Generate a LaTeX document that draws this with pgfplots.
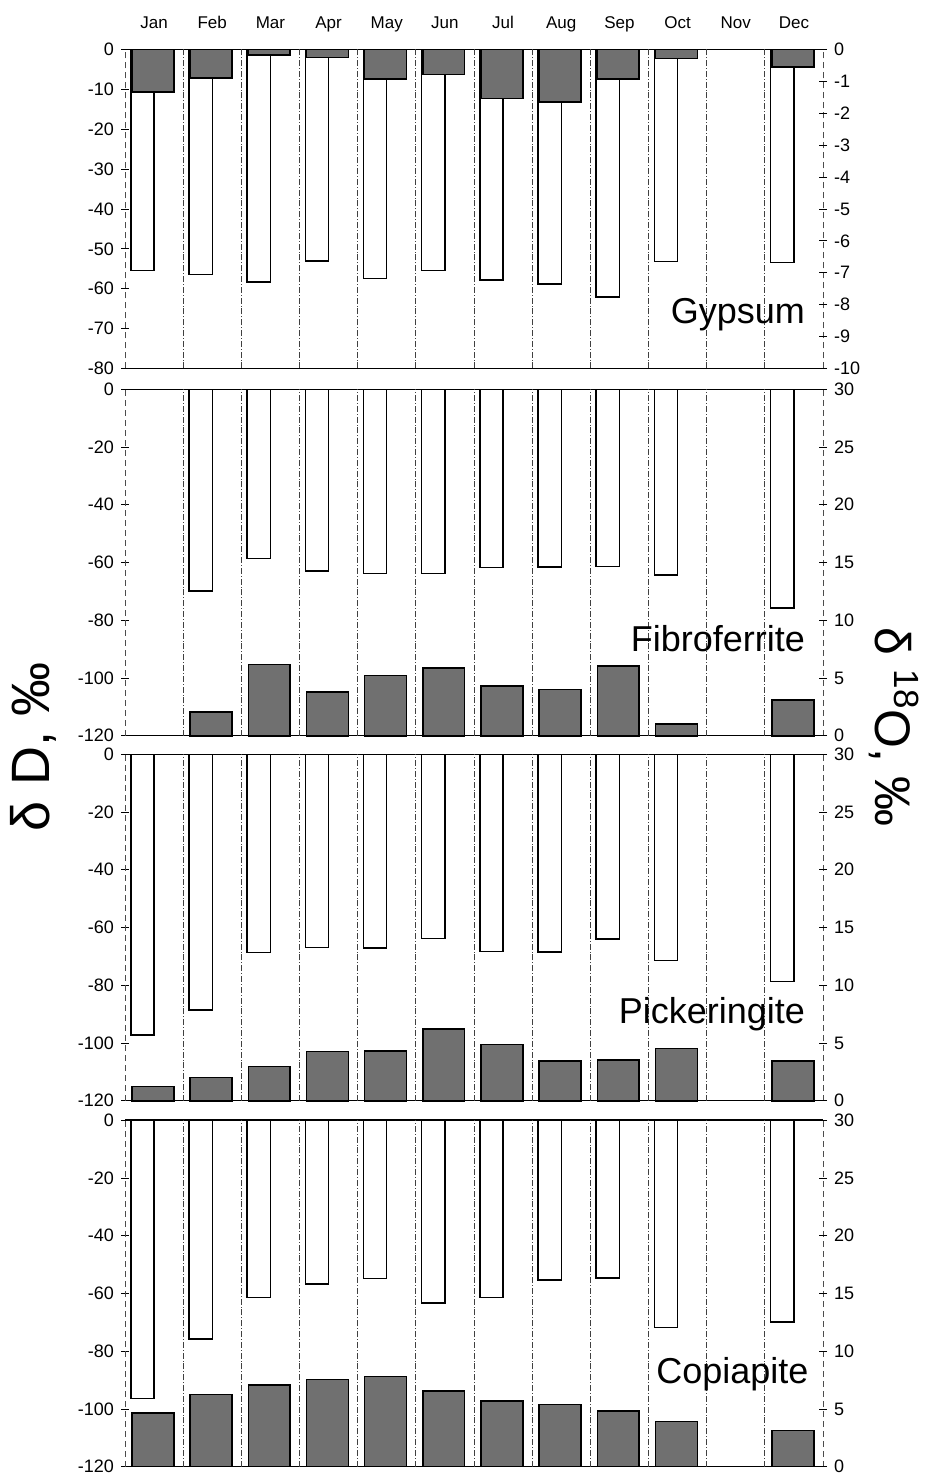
\documentclass[border=0pt]{standalone}
\usepackage{pgfplots}
\pgfplotsset{compat=1.18}
\usepackage{fontspec}
\setmainfont{Liberation Sans}
\definecolor{bargray}{gray}{0.44}
\tikzset{plabel/.style={anchor=east, font=\fontsize{18}{20}\selectfont}}
\pgfplotsset{
  panel/.style={
    anchor=south west, width=349pt, scale only axis,
    xmin=0.5, xmax=12.5,
    /pgf/number format/assume math mode=true,
    tick label style={font=\fontsize{9}{10}\selectfont},
    major tick length=4pt, tick align=center,
    tick style={black, line width=0.4pt},
    clip=false,
  },
  leftax/.style={panel,
    separate axis lines,
    x axis line style={black, line width=0.7pt},
    y axis line style={black!70, densely dashed, line width=0.4pt},
    ytick pos=left, yticklabel pos=left,
    extra x ticks={1.5,2.5,...,11.5},
    extra x tick labels={},
    extra x tick style={grid=major, major tick length=0pt,
      major grid style={black!75, densely dashdotted, line width=0.4pt}},
  },
  rightax/.style={panel,
    hide x axis,
    axis line style={draw=none},
    ytick pos=right, yticklabel pos=right,
  },
  whitebar/.style={ybar, bar width=0.4, bar shift=-0.2, fill=white, draw=black, line width=0.7pt},
  graybar/.style={ybar, bar width=0.72, bar shift=-0.02, fill=bargray, draw=black, line width=0.8pt},
}
\begin{document}
\begin{tikzpicture}
\useasboundingbox (0,0) rectangle (463.5pt,741pt);

% ---------------- Gypsum ----------------
\begin{axis}[leftax, at={(62.5pt,556.75pt)}, height=159.5pt,
  ymin=-80, ymax=0, ytick={-80,-70,...,0},
  xtick={1,...,12}, xticklabels={Jan,Feb,Mar,Apr,May,Jun,Jul,Aug,Sep,Oct,Nov,Dec},
  xticklabel pos=upper, xtick pos=upper, xtick style={draw=none},
  xticklabel style={font=\fontsize{8.5}{10}\selectfont, text height=7pt, text depth=2pt, yshift=3pt}]
\addplot[whitebar] coordinates {(1,-55.5) (2,-56.4) (3,-58.3) (4,-53.0) (5,-57.5) (6,-55.5) (7,-57.8) (8,-58.8) (9,-62.1) (10,-53.2) (12,-53.4)};
\node[plabel] at (axis cs:12.31,-66.5) {Gypsum};
\end{axis}
\begin{axis}[rightax, at={(62.5pt,556.75pt)}, height=159.5pt,
  ymin=-10, ymax=0, ytick={-10,-9,...,0}]
\addplot[graybar] coordinates {(1,-1.33) (2,-0.90) (3,-0.18) (4,-0.25) (5,-0.92) (6,-0.79) (7,-1.54) (8,-1.65) (9,-0.92) (10,-0.28) (12,-0.55)};
\end{axis}

% ---------------- Fibroferrite ----------------
\begin{axis}[leftax, at={(62.5pt,373.1pt)}, height=173.25pt,
  ymin=-120, ymax=0, ytick={-120,-100,...,0}, xtick=\empty]
\addplot[whitebar] coordinates {(2,-69.9) (3,-58.5) (4,-62.9) (5,-63.8) (6,-63.9) (7,-61.7) (8,-61.6) (9,-61.3) (10,-64.3) (12,-75.7)};
\node[plabel] at (axis cs:12.31,-86.5) {Fibroferrite};
\end{axis}
\begin{axis}[rightax, at={(62.5pt,373.1pt)}, height=173.25pt,
  ymin=0, ymax=30, ytick={0,5,...,30}]
\addplot[graybar] coordinates {(2,2.04) (3,6.18) (4,3.78) (5,5.21) (6,5.89) (7,4.29) (8,4.02) (9,6.03) (10,1.03) (12,3.08)};
\end{axis}

% ---------------- Pickeringite ----------------
\begin{axis}[leftax, at={(62.5pt,190.6pt)}, height=173.25pt,
  ymin=-120, ymax=0, ytick={-120,-100,...,0}, xtick=\empty]
\addplot[whitebar] coordinates {(1,-97.2) (2,-88.5) (3,-68.7) (4,-67.0) (5,-67.1) (6,-63.8) (7,-68.3) (8,-68.5) (9,-63.9) (10,-71.5) (12,-78.6)};
\node[plabel] at (axis cs:12.31,-90) {Pickeringite};
\end{axis}
\begin{axis}[rightax, at={(62.5pt,190.6pt)}, height=173.25pt,
  ymin=0, ymax=30, ytick={0,5,...,30}]
\addplot[graybar] coordinates {(1,1.25) (2,2.01) (3,2.98) (4,4.27) (5,4.31) (6,6.23) (7,4.89) (8,3.43) (9,3.53) (10,4.53) (12,3.46)};
\end{axis}

% ---------------- Copiapite ----------------
\begin{axis}[leftax, at={(62.5pt,7.65pt)}, height=173.25pt,
  ymin=-120, ymax=0, ytick={-120,-100,...,0}, xtick=\empty]
\addplot[whitebar] coordinates {(1,-96.3) (2,-75.8) (3,-61.5) (4,-56.7) (5,-54.9) (6,-63.3) (7,-61.3) (8,-55.4) (9,-54.7) (10,-71.7) (12,-69.9)};
\node[plabel] at (axis cs:12.37,-88) {Copiapite};
\end{axis}
\begin{axis}[rightax, at={(62.5pt,7.65pt)}, height=173.25pt,
  ymin=0, ymax=30, ytick={0,5,...,30}]
\addplot[graybar] coordinates {(1,4.63) (2,6.25) (3,7.05) (4,7.56) (5,7.82) (6,6.55) (7,5.71) (8,5.39) (9,4.83) (10,3.91) (12,3.15)};
\end{axis}

% axis titles
\node[rotate=90, font=\fontsize{27}{30}\selectfont] at (16.5pt,367.5pt) {δ D, ‰};
\node[rotate=-90, font=\fontsize{25}{30}\selectfont] at (447pt,377.5pt) {δ \textsuperscript{18}O, ‰};
\end{tikzpicture}
\end{document}
